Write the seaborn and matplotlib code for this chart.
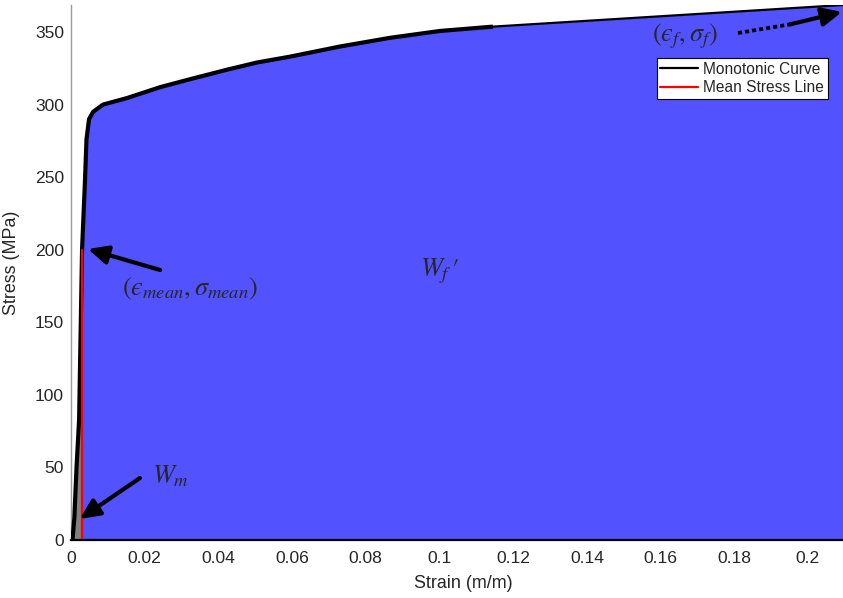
import matplotlib
matplotlib.use("Agg")
import matplotlib.pyplot as plt
import seaborn as sns
import pandas as pd
from matplotlib.ticker import FixedLocator, FuncFormatter

# Monotonic tensile curve (strain in m/m, stress in MPa)
strain = [0.0004, 0.0009, 0.0015, 0.0022, 0.0030, 0.0038, 0.0042, 0.0049,
          0.0060, 0.0087, 0.0152, 0.0242, 0.0331, 0.0423, 0.0505, 0.0594,
          0.0730, 0.0866, 0.1001, 0.1145, 0.2095]
stress = [0.0, 15.0, 50.0, 83.0, 200.0, 248.0, 276.0, 290.0,
          295.0, 300.0, 304.5, 312.0, 318.0, 324.0, 329.0, 333.0,
          340.0, 346.0, 350.7, 353.7, 368.6]
n_measured = 20          # points before the straight extension to fracture

# Mean stress point
eps_mean = 0.0030
sig_mean = 200.0

x_ticks = [0, 0.02, 0.04, 0.06, 0.08, 0.1, 0.12, 0.14, 0.16, 0.18, 0.2]
y_ticks = [0, 50, 100, 150, 200, 250, 300, 350]

sns.set_theme(style="white")
plt.rcParams["font.family"] = ["Liberation Sans", "DejaVu Sans"]
plt.rcParams["mathtext.fontset"] = "stix"

curve = pd.DataFrame({"strain": strain, "stress": stress})
mean_line = pd.DataFrame({"strain": [eps_mean, eps_mean], "stress": [0.0, sig_mean]})

fig = plt.figure(figsize=(8.43, 5.98), dpi=100)
ax = fig.add_axes([71 / 843, 58 / 598, 772 / 843, 535 / 598])
ax.set_axisbelow(True)

blue = "#5252ff"
gray = "#808080"

# Energy areas under the curve
k = strain.index(eps_mean)
ax.fill_between(strain[:k + 1], 0, stress[:k + 1], color=gray, lw=0, zorder=1)
ax.fill_between(strain[k:], 0, stress[k:], color=blue, lw=0, zorder=1)

# Curve and mean stress line
sns.lineplot(data=curve, x="strain", y="stress", sort=False, estimator=None,
             color="black", lw=1.6, ax=ax, label="Monotonic Curve", zorder=3)
ax.plot(strain[:n_measured], stress[:n_measured], color="black", lw=3.0,
        solid_capstyle="butt", zorder=3)
sns.lineplot(data=mean_line, x="strain", y="stress", sort=False, estimator=None,
             color="#ff0000", lw=1.6, ax=ax, label="Mean Stress Line", zorder=4)

# Annotations
arrow_kw = dict(arrowstyle="-|>,head_length=0.85,head_width=0.4", lw=3.0,
                color="black", shrinkA=0, shrinkB=0, mutation_scale=14)
math_fs = 19
eps = "\u03f5"   # lunate epsilon

ax.annotate("", xy=(0.0046, 200.5), xytext=(0.0242, 186.0),
            arrowprops=arrow_kw, zorder=6)
ax.text(0.0323, 173.0, rf"$({eps}_{{mean}},\sigma_{{mean}})$", fontsize=math_fs,
        ha="center", va="center", zorder=6)

ax.annotate("", xy=(0.0024, 14.5), xytext=(0.0187, 42.7),
            arrowprops=arrow_kw, zorder=6)
ax.text(0.0270, 44.0, r"$W_m$", fontsize=math_fs, ha="center", va="center", zorder=6)

ax.text(0.1001, 185.0, r"$W_f\,\prime$", fontsize=math_fs, ha="center", va="center",
        zorder=6)

ax.plot([0.1810, 0.1957], [349.3, 355.5], color="black", lw=2.7,
        linestyle=(0, (1.1, 0.8)), dash_capstyle="butt",
        zorder=6, clip_on=False)
ax.annotate("", xy=(0.2092, 363.8), xytext=(0.1950, 355.2),
            arrowprops=arrow_kw, zorder=6, annotation_clip=False)
ax.text(0.1666, 347.0, rf"$({eps}_f,\sigma_f)$", fontsize=math_fs,
        ha="center", va="center", zorder=6)

# Axes styling
ax.set_xlim(0, 0.2095)
ax.set_ylim(0, 368.6)
ax.xaxis.set_major_locator(FixedLocator(x_ticks))
ax.yaxis.set_major_locator(FixedLocator(y_ticks))
ax.xaxis.set_major_formatter(FuncFormatter(lambda v, p: f"{v:g}"))
ax.yaxis.set_major_formatter(FuncFormatter(lambda v, p: f"{v:g}"))
ax.tick_params(axis="both", direction="in", length=6, width=0.8,
               colors="#262626", labelsize=12.6)
ax.tick_params(axis="x", pad=8)
ax.tick_params(axis="y", pad=5)

for side in ("top", "right"):
    ax.spines[side].set_visible(False)
ax.spines["left"].set_color("#9a9a9a")
ax.spines["left"].set_linewidth(1.0)
ax.spines["bottom"].set_color("black")
ax.spines["bottom"].set_linewidth(1.6)
ax.spines["bottom"].set_zorder(5)

ax.set_xlabel("Strain (m/m)", fontsize=12.9, color="#262626")
ax.set_ylabel("Stress (MPa)", fontsize=12.9, color="#262626")
ax.xaxis.set_label_coords(0.508, -0.066)
ax.yaxis.set_label_coords(-0.066, 0.518)

leg = ax.legend(loc="upper right", bbox_to_anchor=(0.9806, 0.901),
                borderaxespad=0, fontsize=11.2, frameon=True, fancybox=False,
                framealpha=1, edgecolor="black", handlelength=2.4,
                handletextpad=0.35, borderpad=0.25, labelspacing=0.2)
leg.get_frame().set_linewidth(0.8)
leg.set_zorder(7)

fig.savefig("out.png", dpi=100)
